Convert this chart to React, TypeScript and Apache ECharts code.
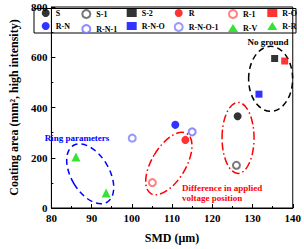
import React, { useEffect, useRef } from "react";
import * as echarts from "echarts";

const seriesNames = ["S", "S-1", "S-2", "R", "R-1", "R-O", "R-N", "R-N-1", "R-N-O", "R-N-O-1", "R-V", "R-R"];
const seriesX = [126.3, 126.0, 135.5, 113.3, 105.1, 138.0, 110.8, 115.0, 131.6, 100.1, 86.1, 93.6];
const seriesY = [365, 170, 595, 271, 101, 585, 331, 303, 453, 278, 203, 60];
const seriesSymbol = ["circle", "emptyCircle", "rect", "circle", "emptyCircle", "rect", "circle", "emptyCircle", "rect", "emptyCircle", "triangle", "triangle"];
const seriesColor = ["#000000", "#555555", "#000000", "#ff0000", "#ff6060", "#ff0000", "#0000ff", "#6f6fff", "#0000ff", "#7f7fff", "#00dd00", "#00dd00"];
const seriesSize = [8, 7, 7, 8, 7, 7, 8, 7, 7, 7, 9, 9];
const legendColumns = [["S", "R-N"], ["S-1", "R-N-1"], ["S-2", "R-N-O"], ["R", "R-N-O-1"], ["R-1", "R-V"], ["R-O", "R-R"]];
const legendColumnX = [46.7, 86.3, 131.7, 178.7, 233, 272.3];

// ellipse annotations: centre in data coordinates
const ellipseCx = [134.5, 126.4, 109.2, 89.65];
const ellipseCy = [514, 279, 177, 136];

const FONT = "Liberation Serif";

export default function App() {
  const ref = useRef<HTMLDivElement>(null);
  useEffect(() => {
    const chart = echarts.init(ref.current!, null, { renderer: "svg" });
    const series = seriesNames.map((n, i) => ({
      name: n,
      type: "scatter",
      data: [[seriesX[i], seriesY[i]]],
      symbol: seriesSymbol[i],
      symbolSize: seriesSize[i],
      itemStyle: seriesSymbol[i] === "emptyCircle"
        ? { color: seriesColor[i], borderColor: seriesColor[i], borderWidth: 1 }
        : { color: seriesColor[i] },
      z: 5,
    }));
    const legends = legendColumns.map((col, i) => ({
      orient: "vertical",
      left: legendColumnX[i] - 5,
      top: 9,
      itemWidth: 10,
      itemHeight: 8,
      itemGap: 5,
      padding: 0,
      data: col,
      textStyle: { fontFamily: FONT, fontWeight: "bold", fontSize: 8, color: "#000", padding: [0, 0, 0, 0] },
      selectedMode: false,
    }));
    const axisCommon = {
      axisLine: { show: true, lineStyle: { color: "#000", width: 1 } },
      axisTick: { show: true, inside: true, length: 4, lineStyle: { color: "#000" } },
      minorTick: { show: true, splitNumber: 2, length: 2, lineStyle: { color: "#000" } },
      splitLine: { show: false },
      axisLabel: { fontFamily: FONT, fontWeight: "bold", fontSize: 11, color: "#000" },
      nameTextStyle: { fontFamily: FONT, fontWeight: "bold", fontSize: 12, color: "#000" },
    };
    const option: any = {
      animation: false,
      grid: { left: 37, right: 9, top: 7, bottom: 37, show: true, borderColor: "#000", borderWidth: 1 },
      xAxis: {
        ...axisCommon,
        type: "value",
        min: 80,
        max: 140,
        interval: 10,
        name: "SMD (μm)",
        nameLocation: "middle",
        nameGap: 24,
        axisLabel: { ...axisCommon.axisLabel, margin: 4 },
      },
      yAxis: {
        ...axisCommon,
        type: "value",
        min: 0,
        max: 800,
        interval: 200,
        name: "Coating area (mm², high intensity)",
        nameLocation: "middle",
        nameGap: 24,
        axisLabel: { ...axisCommon.axisLabel, margin: 4 },
      },
      legend: legends,
      series,
    };
    chart.setOption(option);
    const p = ellipseCx.map((x, i) => chart.convertToPixel({ gridIndex: 0 }, [x, ellipseCy[i]]));
    const dash = { fill: "none", lineWidth: 1.5 };
    chart.setOption({
      graphic: [
        { type: "rect", shape: { x: 34, y: 8.5, width: 262, height: 24.5 }, style: { fill: "none", stroke: "#000", lineWidth: 1 }, z: 1 },
        { type: "ellipse", x: p[0][0], y: p[0][1], shape: { cx: 0, cy: 0, rx: 22, ry: 32.5 }, style: { ...dash, stroke: "#000", lineDash: [6, 4] }, z: 2 },
        { type: "ellipse", x: p[1][0], y: p[1][1], shape: { cx: 0, cy: 0, rx: 16, ry: 35.5 }, style: { ...dash, stroke: "#ff0000", lineDash: [8, 3, 1.5, 3] }, z: 2 },
        { type: "ellipse", x: p[2][0], y: p[2][1], rotation: -0.54, shape: { cx: 0, cy: 0, rx: 17, ry: 35 }, style: { ...dash, stroke: "#ff0000", lineDash: [8, 3, 1.5, 3] }, z: 2 },
        { type: "ellipse", x: p[3][0], y: p[3][1], rotation: 0.54, shape: { cx: 0, cy: 0, rx: 19, ry: 33 }, style: { ...dash, stroke: "#0000ff", lineDash: [6, 4] }, z: 2 },
        { type: "text", x: 268, y: 42, style: { text: "No ground", fontFamily: FONT, fontWeight: "bold", fontSize: 9, fill: "#000", align: "center", verticalAlign: "middle" }, z: 3 },
        { type: "text", x: 77, y: 138, style: { text: "Ring parameters", fontFamily: FONT, fontWeight: "bold", fontSize: 9, fill: "#0000ff", align: "center", verticalAlign: "middle" }, z: 3 },
        { type: "text", x: 182, y: 187.5, style: { text: "Difference in applied", fontFamily: FONT, fontWeight: "bold", fontSize: 9, fill: "#ff0000", align: "left", verticalAlign: "middle" }, z: 3 },
        { type: "text", x: 182, y: 197.5, style: { text: "voltage position", fontFamily: FONT, fontWeight: "bold", fontSize: 9, fill: "#ff0000", align: "left", verticalAlign: "middle" }, z: 3 },
      ],
    });
    return () => chart.dispose();
  }, []);
  return <div ref={ref} style={{ width: 304, height: 249, position: "absolute", left: 0, top: 0 }} />;
}
